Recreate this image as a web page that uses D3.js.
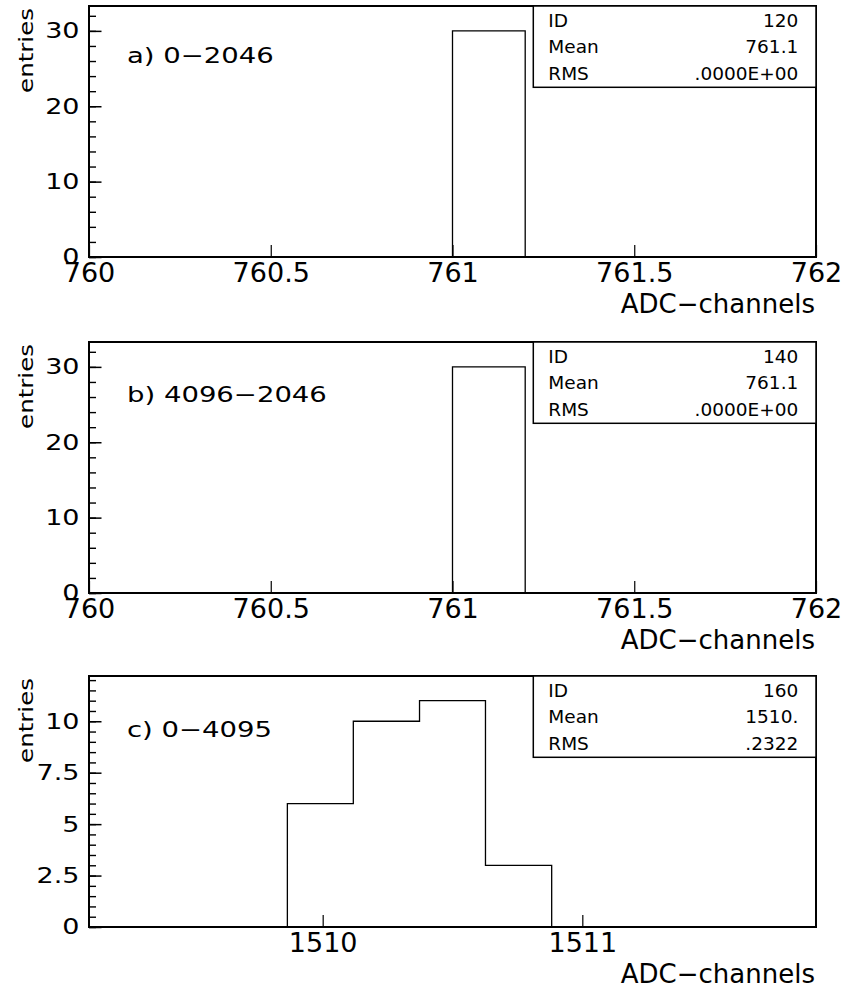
<!DOCTYPE html>
<html>
<head>
<meta charset="utf-8">
<script src="https://cdn.jsdelivr.net/npm/d3@7"></script>
<style>
  html, body { margin: 0; padding: 0; background: #fff; }
  svg text { font-family: "DejaVu Sans", sans-serif; fill: #000; }
</style>
</head>
<body>
<svg id="chart" width="845" height="988"></svg>
<script>
// histogram bins (edges) and contents
const binEdgesA = [760, 760.2, 760.4, 760.6, 760.8, 761, 761.2, 761.4, 761.6, 761.8, 762]
const countsA = [0, 0, 0, 0, 0, 30, 0, 0, 0, 0]
const binEdgesB = [760, 760.2, 760.4, 760.6, 760.8, 761, 761.2, 761.4, 761.6, 761.8, 762]
const countsB = [0, 0, 0, 0, 0, 30, 0, 0, 0, 0]
const binEdgesC = [1509.1, 1509.355, 1509.609, 1509.864, 1510.118, 1510.373, 1510.627, 1510.882, 1511.136, 1511.391, 1511.645, 1511.9]
const countsC = [0, 0, 0, 6, 10, 11, 3, 0, 0, 0, 0]

const titles = ['a) 0\u22122046', 'b) 4096\u22122046', 'c) 0\u22124095']
const statsA = [['ID', '120'], ['Mean', '761.1'], ['RMS', '.0000E+00']]
const statsB = [['ID', '140'], ['Mean', '761.1'], ['RMS', '.0000E+00']]
const statsC = [['ID', '160'], ['Mean', '1510.'], ['RMS', '.2322']]

const xTicksAB = [760, 760.5, 761, 761.5, 762]
const xTicksC = [1510, 1511]
const yTicksAB = [0, 10, 20, 30]
const yTicksC = [0, 2.5, 5, 7.5, 10]
const yMinorAB = d3.range(0, 33, 2)
const yMinorC = d3.range(0, 12.01, 0.5)
const yMaxAB = 33.3
const yMaxC = 12.2

const xTitle = 'ADC\u2212channels'
const yTitle = 'entries'

// layout
const left = 89, right = 816, plotH = 251
const panels = [
  {top: 6, edges: binEdgesA, counts: countsA, title: titles[0], stats: statsA,
   xTicks: xTicksAB, yTicks: yTicksAB, yMinor: yMinorAB, yMax: yMaxAB, titleY: 56.7},
  {top: 342, edges: binEdgesB, counts: countsB, title: titles[1], stats: statsB,
   xTicks: xTicksAB, yTicks: yTicksAB, yMinor: yMinorAB, yMax: yMaxAB, titleY: 59.7},
  {top: 676, edges: binEdgesC, counts: countsC, title: titles[2], stats: statsC,
   xTicks: xTicksC, yTicks: yTicksC, yMinor: yMinorC, yMax: yMaxC, titleY: 61.3}
]

const svg = d3.select('#chart')

panels.forEach(p => {
  const g = svg.append('g').attr('transform', `translate(0,${p.top})`)

  let x = d3.scaleLinear()
    .domain([p.edges[0], p.edges[p.edges.length - 1]])
    .range([left, right])
  let y = d3.scaleLinear()
    .domain([0, p.yMax])
    .range([plotH, 0])

  // histogram outline as a step line
  let pts = p.counts.map((c, i) => [p.edges[i], c])
  pts.push([p.edges[p.edges.length - 1], p.counts[p.counts.length - 1]])
  let line = d3.line()
    .x(d => x(d[0]))
    .y(d => y(d[1]))
    .curve(d3.curveStepAfter)
  g.append('path')
    .attr('d', line(pts))
    .attr('fill', 'none')
    .attr('stroke', '#000')
    .attr('stroke-width', 1.3)

  // minor y ticks
  let yMinorAxis = d3.axisLeft(y).tickValues(p.yMinor).tickSize(-7).tickFormat('')
  let gm = g.append('g').attr('transform', `translate(${left},0)`).call(yMinorAxis)
  gm.select('.domain').remove()
  gm.selectAll('line').attr('stroke', '#000').attr('stroke-width', 1.4)

  // major y ticks + labels
  let yAxis = d3.axisLeft(y).tickValues(p.yTicks).tickSize(-12.5).tickPadding(9.5).tickFormat(d => String(d))
  let gy = g.append('g').attr('transform', `translate(${left},0)`).call(yAxis)
  gy.select('.domain').remove()
  gy.selectAll('line').attr('stroke', '#000').attr('stroke-width', 1.5)
  gy.selectAll('text')
    .attr('font-size', 27)
    .attr('font-family', '"DejaVu Sans", sans-serif')
    .attr('fill', '#000')
    .attr('transform', 'scale(1,0.8)')

  // x ticks + labels
  let xAxis = d3.axisBottom(x).tickValues(p.xTicks).tickSize(-12).tickPadding(6).tickFormat(d => String(d))
  let gx = g.append('g').attr('transform', `translate(0,${plotH})`).call(xAxis)
  gx.select('.domain').remove()
  gx.selectAll('line').attr('stroke', '#000').attr('stroke-width', 1.2)
  gx.selectAll('text')
    .attr('font-size', 27)
    .attr('font-family', '"DejaVu Sans", sans-serif')
    .attr('fill', '#000')

  // frame
  g.append('rect')
    .attr('x', left).attr('y', 0)
    .attr('width', right - left).attr('height', plotH)
    .attr('fill', 'none')
    .attr('stroke', '#000')
    .attr('stroke-width', 2)

  // stats box
  const boxL = 533.3, boxH = 81.3
  g.append('rect')
    .attr('x', boxL).attr('y', 0)
    .attr('width', right - boxL).attr('height', boxH)
    .attr('fill', '#fff')
    .attr('stroke', '#000')
    .attr('stroke-width', 1.5)
  p.stats.forEach((s, i) => {
    let by = 20.7 + i * 26.65
    g.append('text').attr('x', 548.3).attr('y', by)
      .attr('font-size', 18.5).text(s[0])
    g.append('text').attr('x', 798.3).attr('y', by)
      .attr('font-size', 18.5).attr('text-anchor', 'end').text(s[1])
  })

  // panel title
  g.append('text')
    .attr('transform', `translate(127,${p.titleY}) scale(1,0.8)`)
    .attr('font-size', 27.5)
    .text(p.title)

  // axis titles
  g.append('text')
    .attr('transform', `translate(33,2) rotate(-90) scale(1,0.8)`)
    .attr('text-anchor', 'end')
    .attr('font-size', 24.5)
    .text(yTitle)
  g.append('text')
    .attr('x', 815).attr('y', plotH + 55.5)
    .attr('text-anchor', 'end')
    .attr('font-size', 26)
    .text(xTitle)
})
</script>
</body>
</html>
